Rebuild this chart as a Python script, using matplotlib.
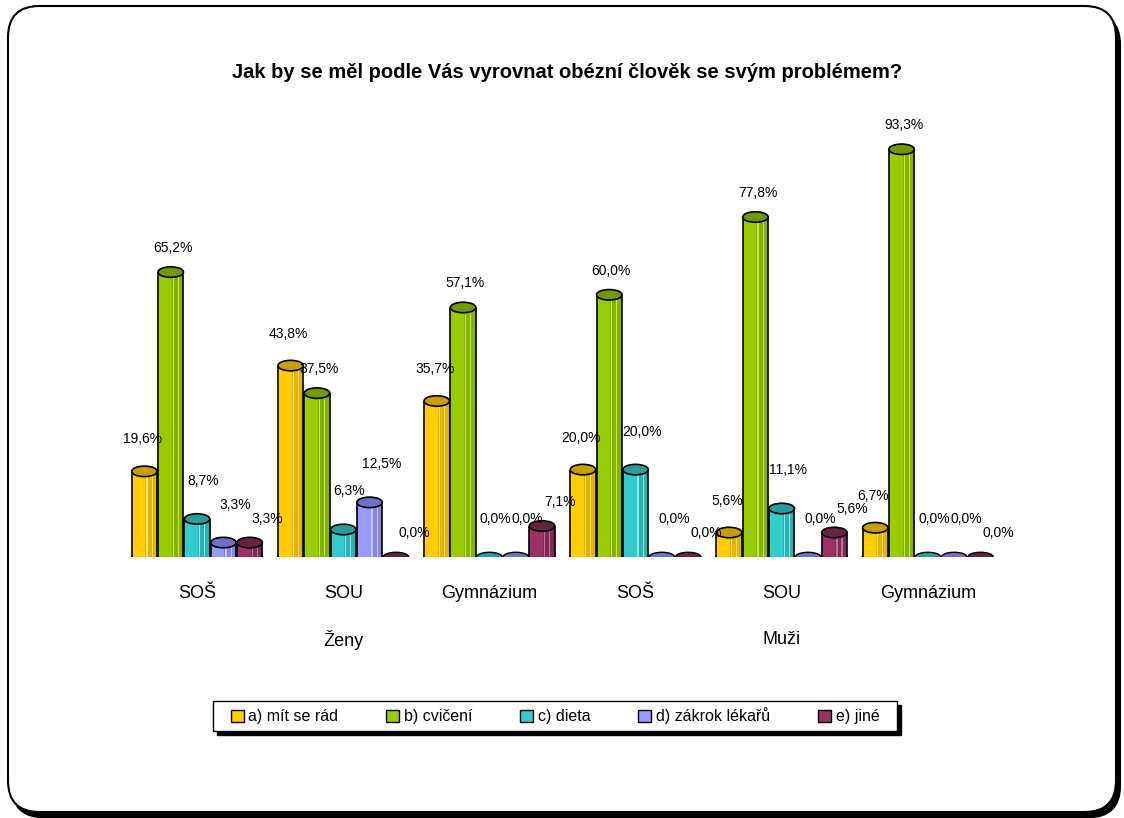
import matplotlib
matplotlib.use("Agg")
import matplotlib.pyplot as plt
from matplotlib.patches import Ellipse, Patch, FancyBboxPatch, Rectangle
from matplotlib import transforms
import numpy as np

plt.rcParams['font.family'] = ['Liberation Sans', 'DejaVu Sans']

title = "Jak by se měl podle Vás vyrovnat obézní člověk se svým problémem?"
schools = ["SOŠ", "SOU", "Gymnázium", "SOŠ", "SOU", "Gymnázium"]
genders = ["Ženy", "Muži"]
series = ["a) mít se rád", "b) cvičení", "c) dieta", "d) zákrok lékařů", "e) jiné"]
val_a = [19.6, 43.8, 35.7, 20.0, 5.6, 6.7]
val_b = [65.2, 37.5, 57.1, 60.0, 77.8, 93.3]
val_c = [8.7, 6.3, 0.0, 20.0, 11.1, 0.0]
val_d = [3.3, 12.5, 0.0, 0.0, 0.0, 0.0]
val_e = [3.3, 0.0, 7.1, 0.0, 5.6, 0.0]
values = [val_a, val_b, val_c, val_d, val_e]

face = ["#FFCC00", "#99CC00", "#33CCCC", "#9999FF", "#993366"]
side = ["#E6B400", "#86B300", "#2AB3B3", "#8585E6", "#7F2A55"]
topc = ["#C89E00", "#739900", "#269C9C", "#7070C8", "#66223F"]
light = ["#FFE680", "#C8E660", "#8EE6E6", "#C8C8FF", "#C07090"]
# label offsets (pixels) per series, like the original's 3-D label placement
label_dx = [-2, 2, 6, 12, 18]
label_dy = [32, 24, 38, 38, 24]

W, H = 1124, 818
fig = plt.figure(figsize=(W / 100, H / 100), dpi=100)

# outer rounded frame with shadow
shadow = FancyBboxPatch((12 / W, 1 - 818 / H + 0.001), (1120 - 12) / W, (814 - 10) / H,
                        boxstyle="round,pad=0,rounding_size=0.028", transform=fig.transFigure,
                        facecolor="black", edgecolor="black", lw=1.5, zorder=0,
                        mutation_aspect=W / H)
fig.patches.append(shadow)
frame = FancyBboxPatch((8 / W, 1 - 812 / H), (1116 - 8) / W, (812 - 6) / H,
                       boxstyle="round,pad=0,rounding_size=0.028", transform=fig.transFigure,
                       facecolor="white", edgecolor="black", lw=1.5, zorder=1,
                       mutation_aspect=W / H)
fig.patches.append(frame)

ax = fig.add_axes([124 / W, 1 - 557 / H, (1001 - 124) / W, 437 / H])
ax.set_zorder(2)
ax.patch.set_alpha(0)
ax.set_xlim(-0.5, 5.5)
ax.set_ylim(0, 100)
for s in ax.spines.values():
    s.set_visible(False)
ax.set_yticks([])

step = 0.18
w = 0.174
eh = 2.4
x0 = np.arange(len(schools))
for si, vals in enumerate(values):
    xs = x0 + (si - 2) * step
    for gi, (x, v) in enumerate(zip(xs, vals)):
        z = 3 + si * 0.01
        if v > 0:
            ax.add_patch(Ellipse((x, 0), w, eh, facecolor=side[si], edgecolor="black", lw=1.2, zorder=z))
            ax.bar(x, v, width=w, color=face[si], edgecolor="none", zorder=z + 0.001)
            ax.bar(x + w * 0.27, v, width=w * 0.46, color=side[si], edgecolor="none", zorder=z + 0.002)
            ax.bar(x + w * 0.1, v, width=w * 0.05, color=light[si], edgecolor="none", zorder=z + 0.003)
            ax.bar(x + w * 0.3, v, width=w * 0.04, color=light[si], edgecolor="none", zorder=z + 0.003)
            ax.vlines([x - w / 2, x + w / 2], 0, v, colors="black", lw=1.2, zorder=z + 0.004)
            ax.add_patch(Ellipse((x, v), w, eh, facecolor=topc[si], edgecolor="black", lw=1.2, zorder=z + 0.005))
        else:
            ax.add_patch(Ellipse((x, 0), w, eh * 0.9, facecolor=topc[si], edgecolor="black", lw=1.0, zorder=z))
        lab = f"{v:.1f}".replace(".", ",") + "%"
        ax.annotate(lab, (x, v), xytext=(label_dx[si], label_dy[si]), textcoords="offset pixels",
                    ha="center", va="center", fontsize=10, zorder=10)

ax.set_xticks(x0)
ax.set_xticklabels(schools, fontsize=13)
ax.tick_params(axis="x", length=0, pad=20)

trans = transforms.blended_transform_factory(ax.transData, ax.transAxes)
for gi, g in enumerate(genders):
    ax.text(1 + 3 * gi, -83 / 437, g, transform=trans, ha="center", va="center", fontsize=13)

fig.text(567 / W, 1 - 73 / H, title, ha="center", va="center", fontsize=14.5, fontweight="bold")

# legend box with shadow
fig.patches.append(Rectangle((217 / W, 1 - 735 / H), (897 - 213) / W, 30 / H, transform=fig.transFigure,
                             facecolor="black", edgecolor="black", zorder=3))
fig.patches.append(Rectangle((213 / W, 1 - 731 / H), (897 - 213) / W, 30 / H, transform=fig.transFigure,
                             facecolor="white", edgecolor="black", lw=1.0, zorder=4))
handles = [Patch(facecolor=face[i], edgecolor="black", lw=1.0) for i in range(5)]
leg = fig.legend(handles, series, loc="center", bbox_to_anchor=(555 / W, 1 - 716 / H), ncol=5,
                 fontsize=11.5, frameon=False,
                 handlelength=0.8, handleheight=0.8, handletextpad=0.3, columnspacing=3.0)
leg.set_zorder(5)

fig.savefig("out.png", dpi=100)
